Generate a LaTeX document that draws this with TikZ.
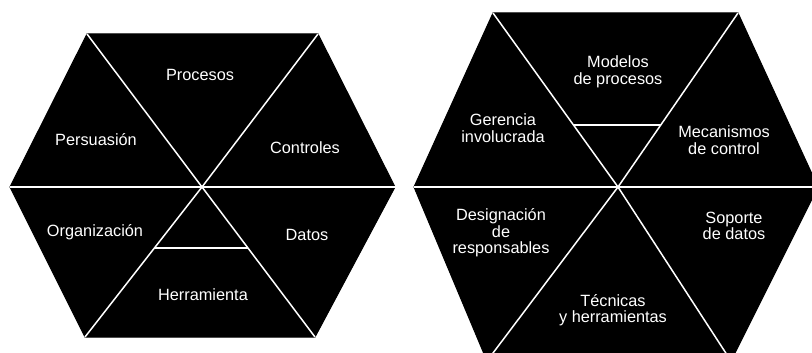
\documentclass[tikz,border=0pt]{standalone}
\usepackage{fontspec}
\setmainfont{Liberation Sans}
\usetikzlibrary{calc}
\begin{document}
\begin{tikzpicture}[x=1pt,y=-1pt,
  hexfill/.style={fill=black,draw=black,line width=1pt},
  wline/.style={draw=white,line width=1.5pt},
  lbl/.style={text=white,align=center,inner sep=0pt,font=\fontsize{16.3}{16.5}\selectfont}]
\useasboundingbox (0,0) rectangle (812,353);
\clip (0,0) rectangle (812,353);
% ---------- left hexagon ----------
\coordinate (Ltl) at (87,34);
\coordinate (Ltr) at (318,34);
\coordinate (Lr) at (395,187);
\coordinate (Lbr) at (315,337);
\coordinate (Lbl) at (85,337);
\coordinate (Ll) at (10,187);
\coordinate (Lc) at (202,187);
\coordinate (Lre) at (399,187);
\fill[hexfill] (Ltl) -- (Ltr) -- (Lr) -- (Lbr) -- (Lbl) -- (Ll) -- cycle;
\draw[wline] (Ll) -- (Lre);
\draw[wline] (Lc) -- (Ltl);
\draw[wline] (Lc) -- (Ltr);
\draw[wline] (Lc) -- (Lbl);
\draw[wline] (Lc) -- (Lbr);
\coordinate (Lsa) at ($(Lc)!0.405!(Lbl)$);
\coordinate (Lsb) at ($(Lc)!0.405!(Lbr)$);
\draw[wline] (Lsa) -- (Lsb);
\node[lbl] (procesos) at (200,75) {Procesos};
\node[lbl] (persuasion) at (96,140) {Persuasión};
\node[lbl] (controles) at (305,148) {Controles};
\node[lbl] (organizacion) at (95,232) {Organización};
\node[lbl] (datos) at (307,235) {Datos};
\node[lbl] (herramienta) at (203,295) {Herramienta};
% ---------- right hexagon ----------
\coordinate (Rtl) at (493,13);
\coordinate (Rtr) at (738,13);
\coordinate (Rr) at (818,187);
\coordinate (Rbr) at (731,361);
\coordinate (Rbl) at (487,361);
\coordinate (Rl) at (414,187);
\coordinate (Rc) at (618,187);
\fill[hexfill] (Rtl) -- (Rtr) -- (Rr) -- (Rbr) -- (Rbl) -- (Rl) -- cycle;
\draw[wline] (Rl) -- (Rr);
\draw[wline] (Rc) -- (Rtl);
\draw[wline] (Rc) -- (Rtr);
\draw[wline] (Rc) -- (Rbl);
\draw[wline] (Rc) -- (Rbr);
\coordinate (Rsa) at ($(Rc)!0.356!(Rtl)$);
\coordinate (Rsb) at ($(Rc)!0.356!(Rtr)$);
\draw[wline] (Rsa) -- (Rsb);
\node[lbl] (modelos) at (618,72) {Modelos\\de procesos};
\node[lbl] (gerencia) at (503,128) {Gerencia\\involucrada};
\node[lbl] (mecanismos) at (724,140) {Mecanismos\\de control};
\node[lbl] (designacion) at (501,233) {Designación\\de\\responsables};
\node[lbl] (soporte) at (734,226) {Soporte\\de datos};
\node[lbl] (tecnicas) at (613,310) {Técnicas\\y herramientas};
\end{tikzpicture}
\end{document}
